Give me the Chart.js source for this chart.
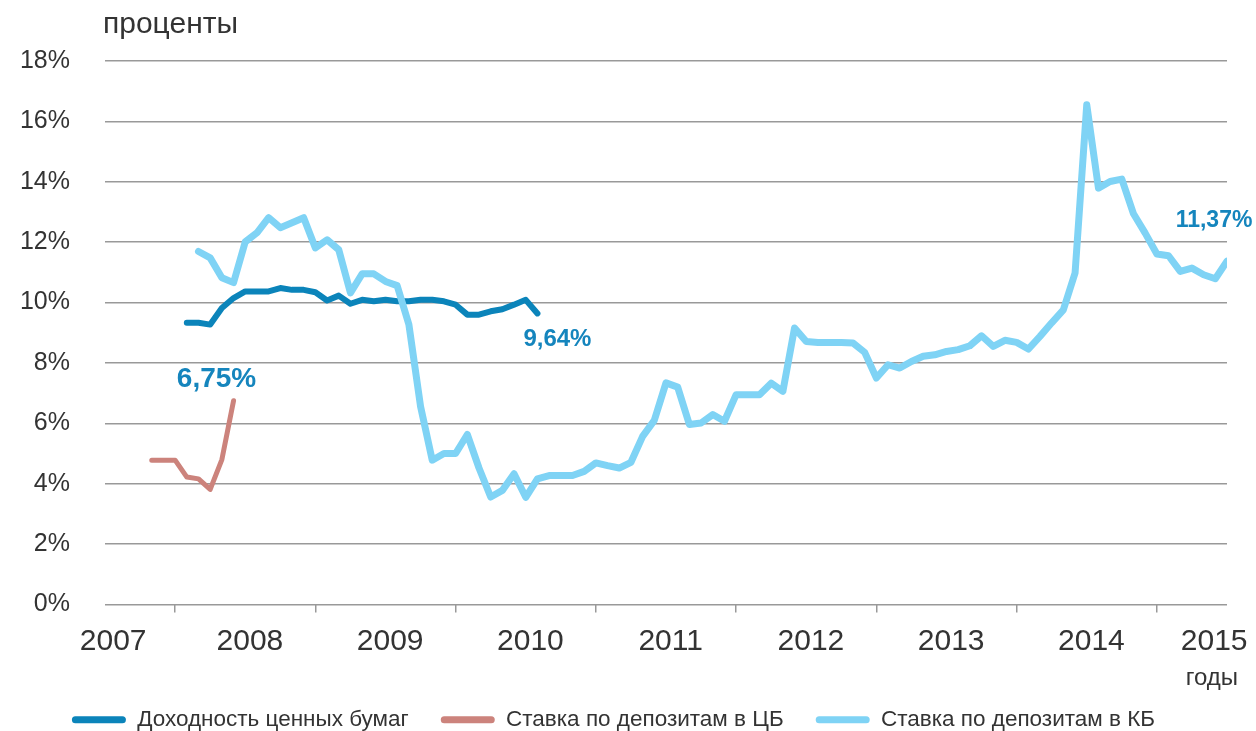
<!DOCTYPE html>
<html>
<head>
<meta charset="utf-8">
<script src="https://cdn.jsdelivr.net/npm/chart.js"></script>
<style>
  html, body { margin: 0; padding: 0; background: #fff; }
</style>
</head>
<body>
<canvas id="chart" width="1256" height="731"></canvas>
<script>
// x values are months counted from July 2007 (0) to July 2015 (96)
const yearLabels = ['2007', '2008', '2009', '2010', '2011', '2012', '2013', '2014', '2015'];
const yearStarts = [6, 18, 30, 42, 54, 66, 78, 90];

const seriesNames = ['Доходность ценных бумаг', 'Ставка по депозитам в ЦБ', 'Ставка по депозитам в КБ'];

const bondStart = 7;
const bondYield = [9.33, 9.33, 9.27, 9.82, 10.15, 10.37, 10.37, 10.37, 10.48, 10.42,
  10.42, 10.34, 10.07, 10.23, 9.96, 10.09, 10.04, 10.09, 10.04, 10.04,
  10.09, 10.09, 10.04, 9.93, 9.6, 9.6, 9.71, 9.78, 9.93, 10.09, 9.64];

const cbStart = 4;
const cbRate = [4.78, 4.78, 4.78, 4.22, 4.16, 3.81, 4.8, 6.75];

const kbStart = 8;
const kbRate = [11.69, 11.48, 10.82, 10.66, 12.01, 12.31, 12.81, 12.48, 12.64, 12.81,
  11.81, 12.08, 11.75, 10.32, 10.95, 10.95, 10.70, 10.56, 9.27, 6.56,
  4.78, 5.0, 5.0, 5.63, 4.52, 3.56, 3.78, 4.33, 3.55, 4.16,
  4.27, 4.27, 4.27, 4.41, 4.69, 4.6, 4.52, 4.71, 5.57, 6.10,
  7.34, 7.20, 5.96, 6.01, 6.29, 6.07, 6.95, 6.95, 6.95, 7.33,
  7.06, 9.16, 8.71, 8.68, 8.68, 8.68, 8.66, 8.35, 7.50, 7.94,
  7.83, 8.05, 8.22, 8.27, 8.38, 8.44, 8.57, 8.90, 8.55, 8.75,
  8.68, 8.46, 8.88, 9.33, 9.76, 10.98, 16.55, 13.79, 14.01, 14.09,
  12.94, 12.30, 11.61, 11.55, 11.03, 11.14, 10.92, 10.79, 11.37];

const colors = ['#0b84ba', '#cc837c', '#7fd3f5'];
const textColor = '#333333';
const annColor = '#1585bd';

function toPoints(start, values) {
  return values.map((v, i) => ({x: start + i, y: v}));
}

// year label positions: middle of each year, kept inside the plot at the ends
const labelPos = yearLabels.map((y, i) => Math.min(Math.max(i * 12 + 0.4, 0.7), 94.9));
const xTickValues = yearStarts.concat(labelPos).sort((a, b) => a - b);

Chart.defaults.font.family = '"Liberation Sans", Arial, sans-serif';
Chart.defaults.color = textColor;

const annotations = {
  id: 'annotations',
  afterDatasetsDraw(chart) {
    const {ctx, chartArea} = chart;
    ctx.save();
    ctx.fillStyle = textColor;
    ctx.font = '30px "Liberation Sans", Arial, sans-serif';
    ctx.textAlign = 'left';
    ctx.textBaseline = 'alphabetic';
    ctx.fillText('проценты', chartArea.left - 2, 33);
    ctx.font = '24px "Liberation Sans", Arial, sans-serif';
    ctx.textAlign = 'right';
    ctx.fillText('годы', 1238, 685);

    // last value of each series
    const offsets = [[20, 26, 24], [-17, -21, 28], [-13, -41, 23]];
    ctx.fillStyle = annColor;
    ctx.textAlign = 'center';
    ctx.textBaseline = 'middle';
    chart.data.datasets.forEach((ds, i) => {
      const pts = chart.getDatasetMeta(i).data;
      const last = pts[pts.length - 1];
      const v = ds.data[ds.data.length - 1].y;
      ctx.font = 'bold ' + offsets[i][2] + 'px "Liberation Sans", Arial, sans-serif';
      ctx.fillText(v.toFixed(2).replace('.', ',') + '%', last.x + offsets[i][0], last.y + offsets[i][1]);
    });
    ctx.restore();
  }
};

new Chart(document.getElementById('chart'), {
  type: 'line',
  data: {
    datasets: [
      {label: seriesNames[0], data: toPoints(bondStart, bondYield), borderColor: colors[0], backgroundColor: colors[0], borderWidth: 6, order: 1},
      {label: seriesNames[1], data: toPoints(cbStart, cbRate), borderColor: colors[1], backgroundColor: colors[1], borderWidth: 5, order: 1},
      {label: seriesNames[2], data: toPoints(kbStart, kbRate), borderColor: colors[2], backgroundColor: colors[2], borderWidth: 7, order: 0}
    ]
  },
  options: {
    responsive: false,
    animation: false,
    devicePixelRatio: 1,
    layout: {padding: {top: 61, left: 0, right: 29, bottom: -10}},
    elements: {
      point: {radius: 0, hoverRadius: 0},
      line: {tension: 0, borderJoinStyle: 'round', borderCapStyle: 'round', fill: false}
    },
    plugins: {
      tooltip: {enabled: false},
      legend: {
        position: 'bottom',
        labels: {
          boxWidth: 54,
          boxHeight: 7,
          useBorderRadius: true,
          borderRadius: 3.5,
          padding: 32,
          font: {size: 22.5},
          color: textColor,
          sort: (a, b) => a.datasetIndex - b.datasetIndex,
          generateLabels: chart => Chart.defaults.plugins.legend.labels.generateLabels(chart)
            .map(item => Object.assign(item, {fillStyle: colors[item.datasetIndex], lineWidth: 0}))
        }
      }
    },
    scales: {
      x: {
        type: 'linear',
        min: 0,
        max: 96,
        afterBuildTicks: scale => { scale.ticks = xTickValues.map(v => ({value: v})); },
        afterFit: scale => {
          scale.height = 72;
          scale.paddingLeft = 0;
          scale.paddingRight = 0;
        },
        ticks: {
          autoSkip: false,
          maxRotation: 0,
          padding: 11,
          font: {size: 30},
          color: textColor,
          callback: value => {
            const i = labelPos.indexOf(value);
            return i >= 0 ? yearLabels[i] : '';
          }
        },
        grid: {
          drawOnChartArea: false,
          tickLength: 8,
          lineWidth: 1.5,
          tickColor: ctx => yearStarts.includes(ctx.tick.value) ? '#999999' : 'rgba(0,0,0,0)'
        },
        border: {display: false}
      },
      y: {
        min: 0,
        max: 18,
        afterFit: scale => { scale.width = 105; },
        ticks: {
          stepSize: 2,
          padding: 35,
          font: {size: 25},
          color: textColor,
          callback: value => value + '%'
        },
        grid: {color: '#999999', lineWidth: 1.5, drawTicks: false},
        border: {display: false}
      }
    }
  },
  plugins: [annotations]
});
</script>
</body>
</html>
